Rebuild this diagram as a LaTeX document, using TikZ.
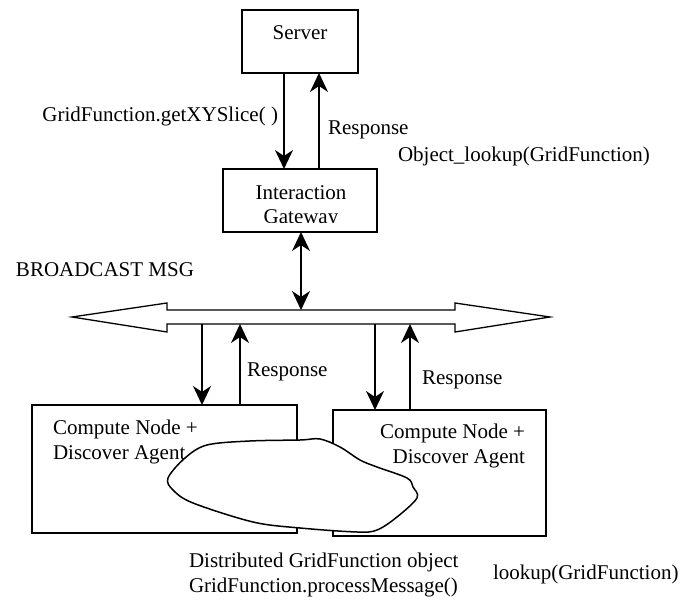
\documentclass[tikz,border=0pt]{standalone}
\usepackage{fontspec}
\setmainfont{Liberation Serif}
\usetikzlibrary{arrows.meta}
\begin{document}
\begin{tikzpicture}[x=1pt,y=-1pt,
  lbl/.style={font=\fontsize{21}{24.5}\selectfont, inner sep=0pt, outer sep=0pt},
  boxnode/.style n args={2}{draw, line width=1.6pt, minimum width=#1, minimum height=#2, inner sep=0pt, outer sep=0pt},
  tip/.tip={Stealth[length=19pt,width=18pt,inset=6pt]},
  heavyarrow/.style={line width=1.8pt, -tip},
  lightarrow/.style={line width=1.3pt, -tip},
  busarrow/.style={draw, line width=1.3pt, fill=white, line join=miter},
  blobline/.style={draw, line width=1.5pt, fill=white}]
\useasboundingbox (0,0) rectangle (697,601);

% boxes
\node[boxnode={116pt}{63pt}] (server) at (300,41.5) {};
\node[boxnode={154pt}{63pt}] (gw) at (300,200.5) {};
\node[boxnode={265pt}{128pt}] (lbox) at (164.5,469) {};
\node[boxnode={213pt}{126pt}] (rbox) at (439.5,473) {};

% broadcast bus (shaft area used as anchor for the connectors)
\node[minimum width=478pt, minimum height=14pt, inner sep=0pt, outer sep=0pt] (bus) at (311,317) {};
\path[busarrow] (72,317) -- (167,303) -- (167,310) -- (455,310) -- (455,303) -- (550,317)
  -- (455,332) -- (455,324) -- (167,324) -- (167,332) -- cycle;

% x positions of the vertical connectors
\coordinate (sd) at (284,0);
\coordinate (su) at (319,0);
\coordinate (gb) at (301,0);
\coordinate (ld) at (202,0);
\coordinate (lu) at (240,0);
\coordinate (rd) at (375,0);
\coordinate (ru) at (410,0);

% server <-> gateway
\draw[heavyarrow] (sd |- server.south) -- (sd |- gw.north);
\draw[heavyarrow] (su |- gw.north) -- (su |- server.south);
% gateway <-> bus
\draw[line width=1.3pt, tip-tip] (gb |- gw.south) -- (gb |- bus.north);
% bus <-> compute nodes
\draw[lightarrow] (ld |- bus.south) -- (ld |- lbox.north);
\draw[lightarrow] (lu |- lbox.north) -- (lu |- bus.south);
\draw[lightarrow] (rd |- bus.south) -- (rd |- rbox.north);
\draw[lightarrow] (ru |- rbox.north) -- (ru |- bus.south);

% box texts
\node[lbl, anchor=base] (servertext) at (300,40) {Server};
\node[lbl, anchor=base] (gwtext1) at (301,200) {Interaction};
\begin{scope}
  \clip (224,170) rectangle (376,222.5);
  \node[lbl, anchor=base] (gwtext2) at (301,224) {Gateway};
\end{scope}
\node[lbl, anchor=base west] (ltext1) at (53,435) {Compute Node +};
\node[lbl, anchor=base west] (ltext2) at (53,460) {Discover Agent};
\node[lbl, anchor=base east] (rtext1) at (525,439) {Compute Node +};
\node[lbl, anchor=base east] (rtext2) at (525,464) {Discover Agent};

% distributed object
\path[blobline] plot[smooth cycle, tension=0.55] coordinates {
  (168,478) (185,458) (207,445) (250,441) (300,440) (320,439) (340,447)
  (360,460) (377,467) (407,478) (413,487) (417,498) (397,517) (377,530)
  (357,532) (300,528) (253,522) (193,503) (173,490)};

% message labels
\node[lbl, anchor=base east] (getxy) at (278,122) {GridFunction.getXYSlice( )};
\node[lbl, anchor=base west] (resp1) at (328,135) {Response};
\node[lbl, anchor=base west] (objlookup) at (398,162) {Object\_lookup(GridFunction)};
\node[lbl, anchor=base west] (bcast) at (16,277) {BROADCAST MSG};
\node[lbl, anchor=base west] (resp2) at (247,377) {Response};
\node[lbl, anchor=base west] (resp3) at (422,385) {Response};
\node[lbl, anchor=base west] (dist1) at (189,568) {Distributed GridFunction object};
\node[lbl, anchor=base west] (dist2) at (189,593) {GridFunction.processMessage()};
\node[lbl, anchor=base west] (lookup) at (493,580) {lookup(GridFunction)};
\end{tikzpicture}
\end{document}
